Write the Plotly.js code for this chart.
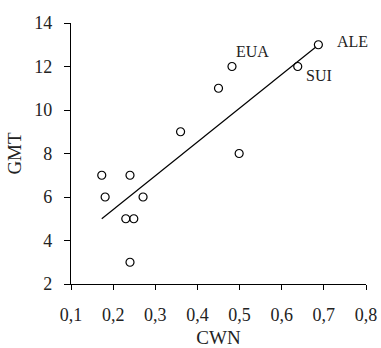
<!DOCTYPE html>
<html><head><meta charset="utf-8">
<script src="https://cdn.plot.ly/plotly-3.0.1.min.js"></script>
<style>html,body{margin:0;padding:0;background:#fff;}</style>
</head><body>
<div id="chart" style="width:381px;height:348px;"></div>
<script>
var cwn = [0.173, 0.181, 0.240, 0.271, 0.230, 0.249, 0.240, 0.360, 0.450, 0.482, 0.499, 0.638, 0.687];
var gmt = [7, 6, 7, 6, 5, 5, 3, 9, 11, 12, 8, 12, 13];
var lineX = [0.173, 0.681];
var lineY = [5.0, 12.9];
var labelText = ["EUA", "ALE", "SUI"];
var labelX = [0.53, 0.767, 0.689];
var labelY = [12.71, 13.17, 11.6];
var xTicks = [0.1, 0.2, 0.3, 0.4, 0.5, 0.6, 0.7, 0.8];
var yTicks = [2, 4, 6, 8, 10, 12, 14];

var font = "Liberation Serif, Times New Roman, serif";
var traces = [
  {x: lineX, y: lineY, mode: "lines", type: "scatter", line: {color: "#000", width: 1.2}, hoverinfo: "skip"},
  {x: cwn, y: gmt, mode: "markers", type: "scatter",
   marker: {symbol: "circle-open", size: 8, color: "#000", line: {width: 1.2, color: "#000"}}}
];
var annotations = labelText.map(function(t, i){
  return {x: labelX[i], y: labelY[i], text: t, showarrow: false, xref: "x", yref: "y",
          font: {family: font, size: 16, color: "#222"}};
});
var layout = {
  width: 381, height: 348,
  margin: {l: 71, r: 15, t: 23, b: 64},
  showlegend: false,
  separators: ",.",
  paper_bgcolor: "#fff", plot_bgcolor: "#fff",
  font: {family: font, size: 18, color: "#222"},
  xaxis: {range: [0.1, 0.8], tickvals: xTicks, tickformat: ".1f", showgrid: false, zeroline: false,
          showline: true, linecolor: "#000", linewidth: 1.2, ticks: "outside", ticklen: 5, tickcolor: "#000",
          ticklabelstandoff: 9,
          title: {text: "CWN", font: {family: font, size: 19}, standoff: 17}, tickfont: {family: font, size: 18}},
  yaxis: {range: [2, 14], tickvals: yTicks, showgrid: false, zeroline: false,
          showline: true, linecolor: "#000", linewidth: 1.2, ticks: "outside", ticklen: 6, tickcolor: "#000",
          ticklabelstandoff: 8,
          title: {text: "GMT", font: {family: font, size: 19}, standoff: 7}, tickfont: {family: font, size: 18}},
  annotations: annotations
};
Plotly.newPlot("chart", traces, layout, {displayModeBar: false, staticPlot: true});
</script>
</body></html>
